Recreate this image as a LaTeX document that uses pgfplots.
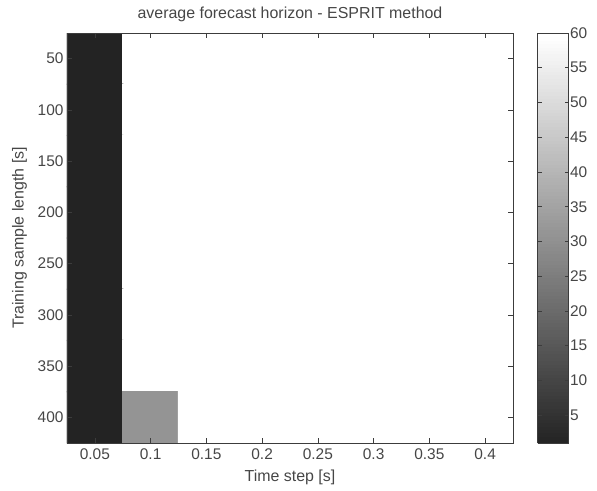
\documentclass[border=0pt]{standalone}
\usepackage{pgfplots}
\pgfplotsset{compat=1.18}
\usepackage{fontspec}
\setmainfont{Liberation Sans}
\definecolor{txt}{RGB}{70,70,70}
\definecolor{frm}{RGB}{60,60,60}
\begin{document}
\begin{tikzpicture}
\begin{axis}[
  name=main,
  at={(0,0)}, anchor=south west,
  scale only axis, width=446bp, height=410bp,
  axis on top,
  xmin=0.025, xmax=0.425, ymin=25, ymax=425,
  y dir=reverse,
  xtick={0.05,0.1,0.15,0.2,0.25,0.3,0.35,0.4},
  xticklabels={0.05,0.1,0.15,0.2,0.25,0.3,0.35,0.4},
  ytick={50,100,...,400},
  tick align=inside,
  major tick length=5bp,
  axis line style={frm, line width=0.6pt},
  tick style={frm, line width=0.6pt},
  /pgf/number format/assume math mode=true,
  tick label style={font=\fontsize{15.5}{17}\selectfont, text=txt},
  xticklabel style={yshift=-2bp},
  label style={font=\fontsize{16}{18}\selectfont, text=txt},
  title style={font=\fontsize{16}{18}\selectfont, text=txt, yshift=2bp},
  title={average forecast horizon - ESPRIT method},
  xlabel={Time step [s]},
  ylabel={Training sample length [s]},
  xlabel style={yshift=-4bp},
  ylabel style={yshift=4bp},
  colormap={scan}{rgb255=(35,35,35) rgb255=(255,255,255)},
  point meta min=1, point meta max=60,
  colorbar sampled,
  colorbar style={
    at={(main.north east)}, anchor=north west, xshift=16bp,
    width=31bp,
    samples=120,
    ytick={5,10,...,60},
    yticklabel style={font=\fontsize{15.5}{17}\selectfont, text=txt, xshift=-2bp},
    /pgf/number format/assume math mode=true,
    axis on top,
    axis line style={frm, line width=0.6pt},
    tick style={frm, line width=0.6pt},
    major tick length=4bp,
  },
]
\addplot[matrix plot, mesh/cols=8, point meta=explicit, faceted color=mapped color, line width=1.2pt] table[meta=c] {
x y c
0.05 50 1
0.1 50 60
0.15 50 60
0.2 50 60
0.25 50 60
0.3 50 60
0.35 50 60
0.4 50 60
0.05 100 1
0.1 100 60
0.15 100 60
0.2 100 60
0.25 100 60
0.3 100 60
0.35 100 60
0.4 100 60
0.05 150 1
0.1 150 60
0.15 150 60
0.2 150 60
0.25 150 60
0.3 150 60
0.35 150 60
0.4 150 60
0.05 200 1
0.1 200 60
0.15 200 60
0.2 200 60
0.25 200 60
0.3 200 60
0.35 200 60
0.4 200 60
0.05 250 1
0.1 250 60
0.15 250 60
0.2 250 60
0.25 250 60
0.3 250 60
0.35 250 60
0.4 250 60
0.05 300 1
0.1 300 60
0.15 300 60
0.2 300 60
0.25 300 60
0.3 300 60
0.35 300 60
0.4 300 60
0.05 350 1
0.1 350 60
0.15 350 60
0.2 350 60
0.25 350 60
0.3 350 60
0.35 350 60
0.4 350 60
0.05 400 1
0.1 400 31
0.15 400 60
0.2 400 60
0.25 400 60
0.3 400 60
0.35 400 60
0.4 400 60
};
\end{axis}
\pgfresetboundingbox
\path[use as bounding box] (-67bp,-48bp) rectangle (530bp,443bp);
\end{tikzpicture}
\end{document}
